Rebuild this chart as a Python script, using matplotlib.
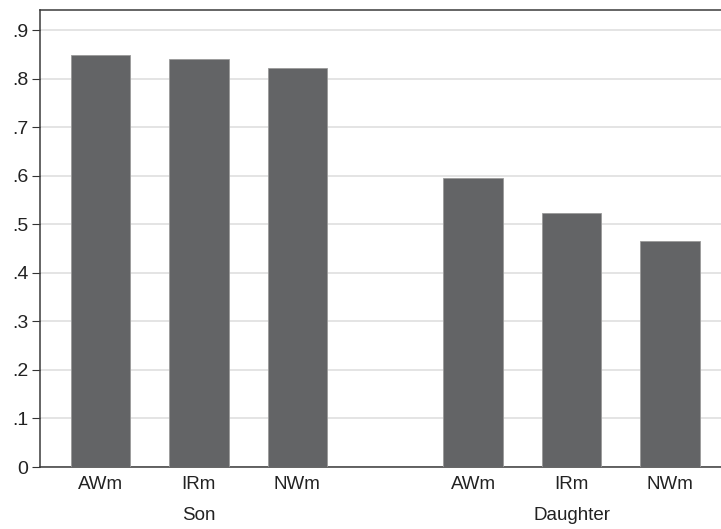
import numpy as np
import matplotlib.pyplot as plt

# datos
groups = ['Son', 'Daughter']
measures = ['AWm', 'IRm', 'NWm']
son = [0.849, 0.842, 0.822]
daughter = [0.596, 0.524, 0.466]
yticks = [0, 0.1, 0.2, 0.3, 0.4, 0.5, 0.6, 0.7, 0.8, 0.9]
ytick_labels = ['0', '.1', '.2', '.3', '.4', '.5', '.6', '.7', '.8', '.9']

plt.rcParams['font.family'] = ['Liberation Sans', 'DejaVu Sans']
fs = 13.5

fig = plt.figure(figsize=(7.21, 5.29), dpi=100)
ax = fig.add_axes([40 / 721, 62 / 529, 681 / 721, 457 / 529])

# posiciones de las barras: 3 por grupo, con hueco entre grupos
gap = 0.787
x_son = np.arange(len(measures))
x_dau = np.arange(len(measures)) + len(measures) + gap
width = 0.604
bar_color = '#636466'

ax.bar(x_son, son, width=width, color=bar_color, edgecolor='#9a9a9a', linewidth=0.6, zorder=3)
ax.bar(x_dau, daughter, width=width, color=bar_color, edgecolor='#9a9a9a', linewidth=0.6, zorder=3)

ax.set_xlim(-0.614, x_dau[-1] + 0.518)
ax.set_ylim(0, 0.942)

ax.set_yticks(yticks)
ax.set_yticklabels(ytick_labels, fontsize=14, color='#222222')
ax.set_xticks(np.concatenate([x_son, x_dau]))
ax.set_xticklabels(measures + measures, fontsize=fs, color='#222222')
ax.tick_params(axis='x', length=0, pad=6.8)
ax.tick_params(axis='y', length=5.5, width=0.8, pad=3, color='#333333')

ax.grid(axis='y', color='#e4e4e4', linewidth=1.4, zorder=0)
ax.set_axisbelow(True)

for s in ['left', 'bottom', 'top']:
    ax.spines[s].set_color('#3a3a3a')
    ax.spines[s].set_linewidth(1.1)
ax.spines['right'].set_visible(False)

# etiquetas de grupo
for xs, name in [(x_son, groups[0]), (x_dau, groups[1])]:
    ax.annotate(name, xy=(xs.mean(), 0), xycoords=('data', 'axes fraction'),
                xytext=(0, -35), textcoords='offset points',
                ha='center', va='center', fontsize=fs, color='#222222')

plt.savefig('out.png', dpi=100)
